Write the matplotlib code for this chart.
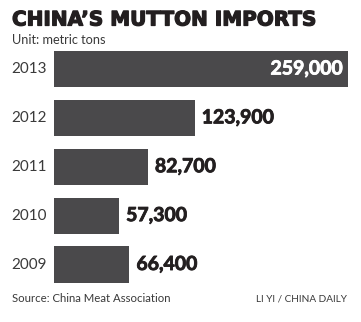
import matplotlib
matplotlib.use("Agg")
import matplotlib.pyplot as plt
import matplotlib.patheffects as pe

years = ["2013", "2012", "2011", "2010", "2009"]
imports = [259000, 123900, 82700, 57300, 66400]
value_labels = ["259,000", "123,900", "82,700", "57,300", "66,400"]

BAR = "#4a494b"
INK = "#231f20"
W, H = 361, 322

fig = plt.figure(figsize=(W / 100, H / 100), dpi=100)
fig.patch.set_facecolor("white")

# axes box in pixels: bars start at x=54, longest bar ends at x=348
ax = fig.add_axes([54 / W, 1 - 282.6 / H, 294 / W, (282.6 - 50.9) / H])
ypos = list(range(len(years) - 1, -1, -1))
ax.barh(ypos, imports, height=0.74, color=BAR, zorder=2)
ax.set_xlim(0, max(imports))
ax.set_ylim(-0.37, len(years) - 1 + 0.37)
ax.axis("off")

heavy = [pe.withStroke(linewidth=0.6, foreground=INK)]
for y, v, lab, yr in zip(ypos, imports, value_labels, years):
    if v == max(imports):
        ax.text(v - 0.017 * max(imports), y, lab, ha="right", va="center",
                color="white", fontsize=14, fontweight="bold", family="Lato",
                path_effects=[pe.withStroke(linewidth=0.6, foreground="white")])
    else:
        ax.text(v + 0.024 * max(imports), y, lab, ha="left", va="center",
                color=INK, fontsize=14, fontweight="bold", family="Lato",
                path_effects=heavy)
    ax.text(-0.024 * max(imports), y, yr, ha="right", va="center",
            color="#3a3a3a", fontsize=11, family="Lato")

fig.text(12 / W, 1 - 20 / H, "CHINA\u2019S MUTTON IMPORTS", ha="left", va="center",
         fontsize=14.4, fontweight="bold", family="DejaVu Sans", color=INK,
         path_effects=[pe.withStroke(linewidth=0.9, foreground=INK)])
fig.text(12 / W, 1 - 40 / H, "Unit: metric tons", ha="left", va="center",
         fontsize=9.2, family="Lato", color="#3a3a3a")
fig.text(12 / W, 1 - 299 / H, "Source: China Meat Association", ha="left", va="center",
         fontsize=8.2, family="Lato", color="#3a3a3a")
fig.text(347 / W, 1 - 299 / H, "LI YI / CHINA DAILY", ha="right", va="center",
         fontsize=7.2, family="Lato", color="#3a3a3a")

fig.savefig("out.png", dpi=100, facecolor="white")
